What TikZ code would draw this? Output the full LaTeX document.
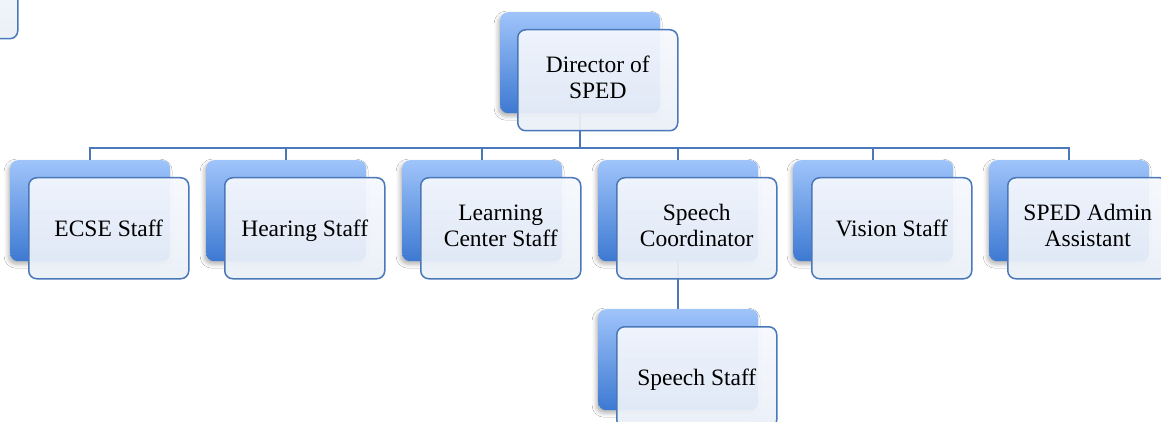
\documentclass[tikz,border=0pt]{standalone}
\usepackage{fontspec}
\setmainfont{Liberation Serif}
\usetikzlibrary{shadows.blur}
\definecolor{edgeblue}{HTML}{4A78B8}
\definecolor{backtop}{HTML}{9FC4FA}
\definecolor{backbot}{HTML}{3D79D2}
\definecolor{facetop}{HTML}{F6F8FD}
\definecolor{facebot}{HTML}{EAF0F8}
% line strut centred on the capital letters
\newcommand\capstrut{\rule[-0.24em]{0pt}{1.14em}}
\tikzset{
  backbox/.style={anchor=north west, minimum width=160pt, minimum height=101pt,
    inner sep=0pt, rounded corners=8pt, top color=backtop, bottom color=backbot,
    draw=none, blur shadow={shadow xshift=-2pt, shadow yshift=-3pt, shadow blur radius=4pt, shadow opacity=30}},
  facebox/.style={anchor=north west, minimum width=160pt, minimum height=101pt,
    inner sep=0pt, rounded corners=8pt, top color=facetop, bottom color=facebot,
    fill opacity=0.93, text opacity=1, draw=edgeblue, line width=1.5pt, align=center,
    font=\fontsize{23.5pt}{26pt}\selectfont,
    execute at begin node=\capstrut, execute at end node=\capstrut},
  link/.style={draw=edgeblue, line width=1.5pt}
}
\begin{document}
\begin{tikzpicture}[x=1pt,y=-1pt]
\useasboundingbox (0,0) rectangle (1161,422);
\fill[white] (0,0) rectangle (1161,422);

% partial box at the upper left edge
\node[facebox] (edgebox) at (-143,-63) {};

% top level
\node[backbox] (dirB) at (500,12) {};
\coordinate (bus) at (0,148);

% second level back plates
\node[backbox] (ecseB)  at (10,160)  {};
\node[backbox] (hearB)  at (206,160) {};
\node[backbox] (learnB) at (402,160) {};
\node[backbox] (speechB) at (598,160) {};
\node[backbox] (visB)   at (793,160) {};
\node[backbox] (admB)   at (989,160) {};

% third level back plate
\node[backbox] (sstaffB) at (598,309) {};

% connectors
\foreach \c in {ecseB,hearB,learnB,speechB,visB,admB}
  \draw[link] (dirB.south) -- (dirB.south |- bus) -| (\c.north);
\draw[link] (speechB.south) -- (sstaffB.north);

% front cards
\node[facebox] (dir) at (517,29) {Director of\\SPED};
\node[facebox] (ecse)  at (28,177)  {ECSE Staff};
\node[facebox] (hear)  at (224,177) {Hearing Staff};
\node[facebox] (learn) at (420,177) {Learning\\Center Staff};
\node[facebox] (speech) at (616,177) {Speech\\Coordinator};
\node[facebox] (vis)   at (811,177) {Vision Staff};
\node[facebox] (adm)   at (1007,177) {SPED Admin\\Assistant};
\node[facebox] (sstaff) at (616,326) {Speech Staff};
\end{tikzpicture}
\end{document}
